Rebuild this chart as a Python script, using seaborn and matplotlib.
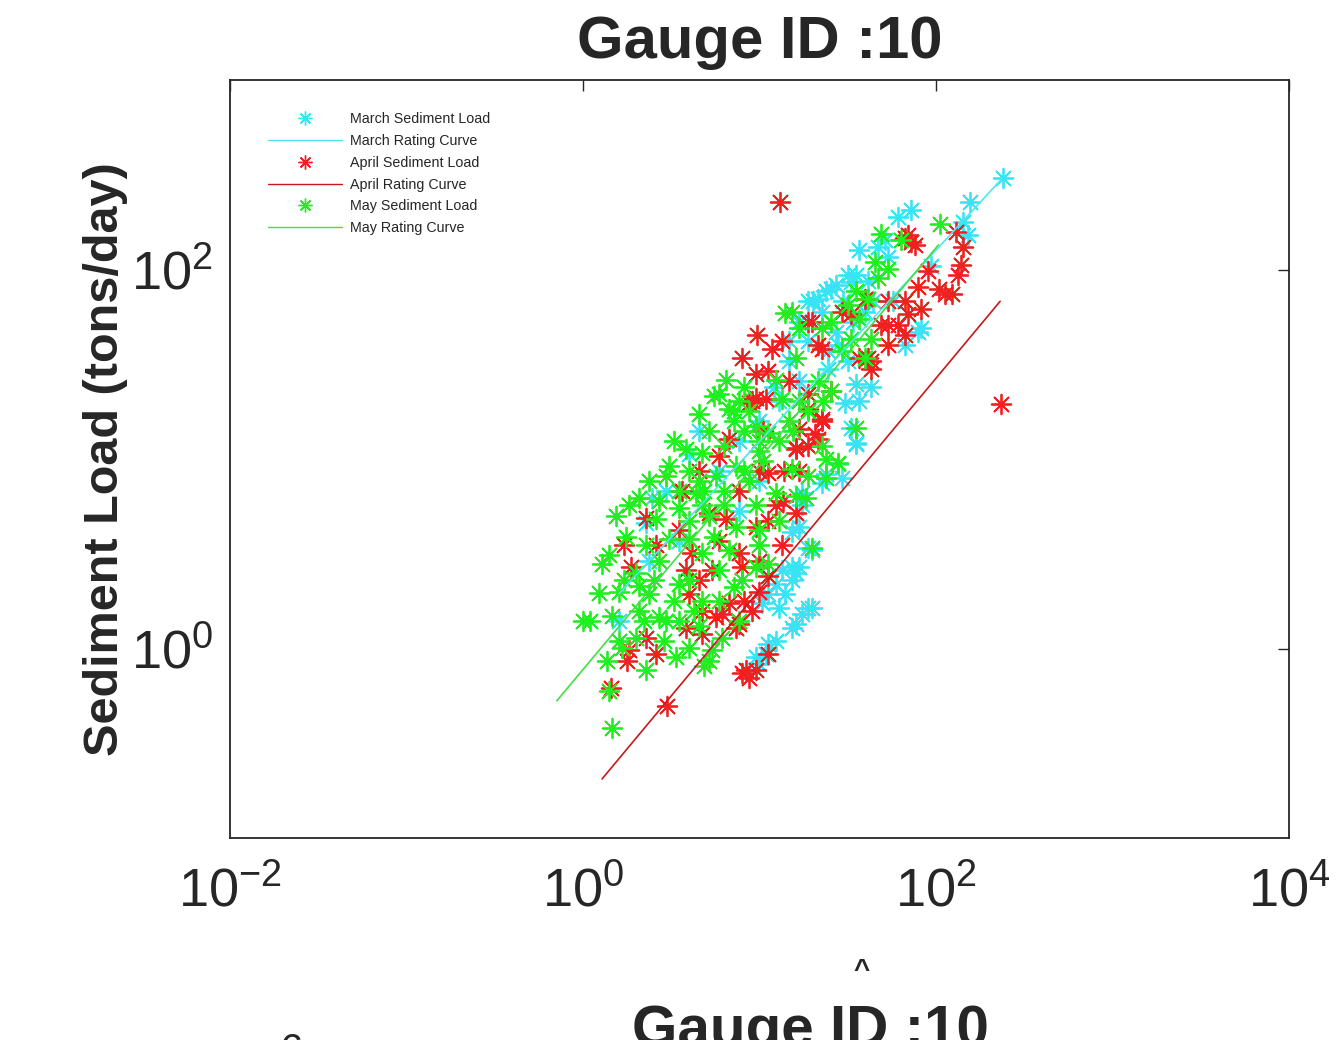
import numpy as np
import pandas as pd
import seaborn as sns
import matplotlib
matplotlib.use('Agg')
from matplotlib import pyplot as plt
from matplotlib import font_manager
from matplotlib.lines import Line2D
from matplotlib.ticker import FixedLocator, FuncFormatter, NullLocator

# discharge (x) and sediment load (y), per month
march_q = [238, 156, 72.2, 61.0, 142, 152, 36.3, 47.0, 51.5, 93.7, 31.8, 33.1, 26.9, 23.6, 21.5, 22.4,
           82.3, 66.8, 26.9, 27.9, 39.7, 25.5, 34.9, 79.1, 36.3, 33.1, 24.5, 34.9, 42.9, 30.6, 34.9, 29.1,
           22.4, 17.3, 16.6, 15.2, 18.9, 17.3, 11.2, 12.3, 13.3, 10.3, 11.2, 12.3, 9.49, 15.2, 16.0, 18.9,
           17.3, 16.0, 15.2, 16.6, 15.2, 14.0, 12.8, 19.7, 10.8, 9.87, 19.7, 27.9, 23.6, 34.9, 3.97, 2.94,
           4.52, 5.87, 7.61, 9.87, 12.8, 16.6, 9.87, 7.61, 1.60, 2.36, 3.49, 14.6, 18.9, 16.6, 2.45, 2.27,
           20.1, 29.7, 41.3, 53.5, 43.8, 33.8, 56.8, 18.9, 24.5, 14.6, 12.0, 31.8]
march_load = [305, 228, 207, 190, 179, 153, 127, 132, 144, 104, 94, 86, 83, 77, 70, 60,
              49, 40, 47, 40, 60, 79, 94, 47, 20.2, 14.6, 30, 25, 24, 19.7, 12.1, 7.9,
              7.5, 6.6, 4.4, 4.1, 3.4, 5.7, 1.95, 2.2, 2.6, 1.73, 1.06, 1.10, 0.90, 2.7, 2.5, 1.64,
              1.53, 1.35, 1.29, 2.7, 2.3, 1.95, 1.64, 1.64, 0.94, 0.83, 3.3, 9.4, 8.3, 12.0, 10.6, 6.8,
              14.0, 8.6, 12.4, 15.9, 20.2, 25.8, 7.7, 5.3, 1.40, 2.9, 3.7, 42, 68, 53, 6.2, 4.6,
              68, 68, 87, 117, 68, 53, 68, 42, 37, 33, 24, 33]

april_q = [13.0, 233, 2.98, 1.44, 1.71, 1.87, 2.27, 1.82, 1.77, 3.82, 5.35, 7.91, 3.82, 4.70, 4.70, 5.64,
           6.10, 7.32, 7.61, 8.34, 8.67, 7.91, 9.49, 11.2, 9.01, 6.68, 3.97, 2.58, 9.49, 10.8, 8.67, 6.68,
           3.62, 2.27, 11.2, 6.43, 9.49, 12.3, 2.58, 4.13, 7.61, 13.3, 5.15, 9.49, 11.2, 9.6, 7.91, 13.3,
           11.7, 19.7, 18.9, 22.4, 33.1, 53.5, 69.5, 103, 122, 133, 142, 130, 72.2, 76.1, 66.8, 42.9,
           36.3, 22.4, 20.7, 16.0, 9.01, 66.8, 69.5, 138, 112, 79.1, 82.3, 66.8, 61.0, 48.9, 53.5, 39.7,
           29.1, 18.9, 41.3, 21.5, 42.9, 25.5, 18.9, 22.4, 16.6, 16.0, 21.5, 18.9, 16.0, 9.87, 7.61, 4.52,
           5.87, 3.49, 10.5, 13.7, 11.2, 9.87, 8.12, 14.6, 16.6, 13.6, 11.2, 5.87, 4.52, 9.87, 53.5, 90.1]
april_load = [228, 19.5, 0.50, 0.62, 3.5, 2.7, 1.14, 0.98, 0.86, 2.6, 2.6, 2.7, 1.29, 1.58, 1.20, 1.46,
              1.53, 1.29, 1.35, 0.77, 0.70, 0.74, 0.77, 0.94, 1.58, 1.73, 1.95, 0.94, 21, 20.7, 19.7, 12.7,
              6.8, 4.9, 8.4, 4.8, 4.4, 5.7, 3.5, 3.2, 3.2, 3.5, 5.2, 28, 29, 45, 34, 42,
              38, 53, 22, 38, 58, 51, 58, 79, 74, 94, 132, 158, 140, 135, 146, 33,
              34, 15.9, 13.5, 11.4, 20.2, 45, 153, 106, 74, 81, 62, 68, 51, 51, 40, 70,
              60, 53, 34, 40, 30, 23, 18.3, 16.2, 14.4, 11.3, 12.7, 11.7, 5.2, 8.6, 6.8, 8.6,
              10.4, 4.2, 14.0, 8.6, 2.4, 2.0, 1.79, 25.8, 8.6, 6.0, 4.7, 3.7, 2.3, 2.9, 68, 98]

may_q = [1.23, 1.0, 1.1, 1.46, 1.46, 1.40, 1.37, 1.66, 1.99, 2.27, 2.69, 2.94, 3.35, 3.97, 5.15, 5.35,
         6.10, 4.70, 3.49, 2.36, 1.99, 1.28, 7.91, 9.49, 11.2, 4.52, 3.27, 6.43, 6.68, 5.87, 7.61, 9.49,
         8.67, 4.70, 3.06, 2.94, 3.82, 5.64, 7.32, 2.07, 1.82, 1.54, 1.75, 1.40, 2.58, 3.49, 4.35, 5.15,
         7.32, 9.49, 12.3, 11.2, 13.3, 12.3, 3.06, 3.97, 4.70, 2.27, 105, 48.9, 63.4, 45.2, 53.5, 47.0,
         34.9, 31.8, 36.3, 41.3, 25.5, 22.4, 16.6, 15.2, 33.1, 42.9, 29.1, 16.0, 39.7, 14.0, 34.9, 27.9,
         23.6, 18.9, 23.6, 16.0, 18.2, 19.7, 15.2, 22.4, 16.6, 14.6, 21.5, 25.5, 9.87, 8.12, 6.26, 4.70,
         3.97, 5.87, 2.69, 4.52, 2.07, 6.68, 9.87, 2.36, 4.52, 4.83, 1.60, 3.49, 7.61, 5.15, 8.12, 7.13,
         5.50, 7.13, 8.12, 6.26, 9.87, 3.97, 4.83, 6.26, 3.49, 2.69, 3.97, 5.50, 2.52, 3.27, 4.24, 2.07,
         1.70, 2.21, 2.87, 1.60, 8.67, 10.5, 12.8, 15.5, 18.9, 22.9, 12.8, 9.87, 7.13, 5.87]
may_load = [1.97, 1.40, 1.40, 1.49, 0.38, 0.60, 0.86, 1.01, 1.14, 0.77, 1.46, 1.40, 0.90, 1.01, 0.86, 0.98,
            1.14, 1.79, 2.2, 1.95, 2.5, 2.8, 2.3, 2.7, 2.8, 17.3, 12.4, 26, 18.3, 22, 20.2, 14.9,
            17.9, 10.8, 9.2, 8.1, 11.3, 8.1, 9.2, 6.2, 5.7, 5.0, 3.9, 3.1, 4.8, 5.5, 6.6, 5.0,
            4.4, 5.7, 6.6, 13.7, 20.7, 26, 3.8, 3.8, 3.2, 3.5, 175, 155, 144, 110, 101, 90,
            77, 65, 55, 70, 53, 49, 49, 60, 43, 43, 37, 34, 34, 59, 14.6, 9.5,
            10, 8.1, 7.9, 6.4, 6.2, 3.4, 8.9, 11.7, 20.2, 15.9, 25.8, 22.8, 11.0, 8.6, 6.8, 5.7,
            2.3, 1.79, 2.9, 1.32, 1.58, 3.3, 4.2, 7.7, 7.7, 0.81, 2.0, 1.40, 1.40, 14.0, 24, 15.9,
            21.5, 17.9, 14.0, 11.7, 12.4, 8.6, 6.8, 5.7, 6.8, 6.0, 4.7, 3.9, 2.3, 1.79, 1.58, 2.15,
            2.3, 1.40, 1.10, 1.10, 7.7, 9.8, 12.4, 14.0, 17.9, 20.2, 4.7, 3.5, 2.1, 2.6]

# rating curve end points
march_curve_q = [1.6, 238]
march_curve_load = [1.95, 305]
april_curve_q = [1.28, 230]
april_curve_load = [0.205, 68]
may_curve_q = [0.71, 103]
may_curve_load = [0.53, 135]

months = ['March', 'April', 'May']
point_colors = {'March': '#38e4f4', 'April': '#ee2020', 'May': '#1fee1f'}
line_colors = {'March': '#50e6f0', 'April': '#c81818', 'May': '#45dd45'}

pts = pd.concat([
    pd.DataFrame({'q': march_q, 'load': march_load, 'month': 'March'}),
    pd.DataFrame({'q': april_q, 'load': april_load, 'month': 'April'}),
    pd.DataFrame({'q': may_q, 'load': may_load, 'month': 'May'}),
])
curves = pd.concat([
    pd.DataFrame({'q': march_curve_q, 'load': march_curve_load, 'month': 'March'}),
    pd.DataFrame({'q': april_curve_q, 'load': april_curve_load, 'month': 'April'}),
    pd.DataFrame({'q': may_curve_q, 'load': may_curve_load, 'month': 'May'}),
])

sns.set_style('white')
names = {f.name for f in font_manager.fontManager.ttflist}
narrow = 'Liberation Sans Narrow' if 'Liberation Sans Narrow' in names else 'Liberation Sans'
plt.rcParams['font.family'] = ['Liberation Sans', 'DejaVu Sans']
plt.rcParams['mathtext.fontset'] = 'custom'
plt.rcParams['mathtext.rm'] = 'Liberation Sans'

fig = plt.figure(figsize=(13.37, 10.4), dpi=100)
ax = fig.add_axes([0.172, 0.1942, 0.7924, 0.7288])
ax.set_xscale('log')
ax.set_yscale('log')

asterisk = (8, 2, 0)
for m in months:
    sns.scatterplot(data=pts[pts.month == m], x='q', y='load', marker=asterisk, s=200,
                    color=point_colors[m], linewidth=1.3, ax=ax, legend=False)
    sns.lineplot(data=curves[curves.month == m], x='q', y='load', color=line_colors[m],
                 lw=1.2, ax=ax, legend=False, sort=False, estimator=None)

ax.set_xlim(1e-2, 1e4)
ax.set_ylim(1e-1, 1e3)
ax.xaxis.set_major_locator(FixedLocator([1e-2, 1, 1e2, 1e4]))
ax.yaxis.set_major_locator(FixedLocator([1, 1e2]))
ax.xaxis.set_minor_locator(NullLocator())
ax.yaxis.set_minor_locator(NullLocator())
fmt = FuncFormatter(lambda v, p: r'$\mathregular{10^{%d}}$' % round(np.log10(v)))
ax.xaxis.set_major_formatter(fmt)
ax.yaxis.set_major_formatter(fmt)
ax.tick_params(axis='both', direction='in', length=8, width=1, top=True, right=True,
               labelsize=39, colors='#262626')
ax.tick_params(axis='x', pad=20)
ax.tick_params(axis='y', pad=12)
for sp in ax.spines.values():
    sp.set_color('#262626')
    sp.set_linewidth(1.3)
ax.set_xlabel('')
ax.set_ylabel('Sediment Load (tons/day)', fontsize=35, fontweight='bold', family=narrow, labelpad=2)
ax.set_title('Gauge ID :10', fontsize=43, fontweight='bold', pad=16)

handles = []
labels = []
for m in months:
    handles.append(Line2D([], [], marker=asterisk, linestyle='none', color=point_colors[m],
                          markersize=10, markeredgewidth=1))
    labels.append(m + ' Sediment Load')
    handles.append(Line2D([], [], color=line_colors[m], lw=1))
    labels.append(m + ' Rating Curve')
ax.legend(handles, labels, loc='upper left', bbox_to_anchor=(0.036, 0.958), frameon=False,
          fontsize=10.3, handlelength=5.2, handletextpad=0.5, labelspacing=0.55,
          borderpad=0, borderaxespad=0)

# second title sits half out of the picture along the lower edge, as in the source image
fig.text(810 / 1337, -0.006, 'Gauge ID :10', ha='center', va='baseline', fontsize=42,
         fontweight='bold')
fig.text(862 / 1337, 1 - 978 / 1040, '^', ha='center', va='baseline', fontsize=20,
         fontweight='bold')
fig.text(292 / 1337, -0.022, '6', ha='center', va='baseline', fontsize=30)

fig.savefig('out.png', dpi=100)
